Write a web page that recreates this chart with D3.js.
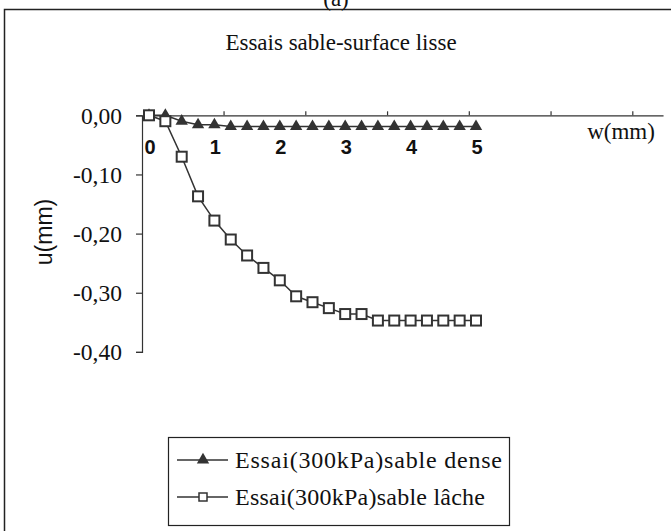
<!DOCTYPE html>
<html>
<head>
<meta charset="utf-8">
<script src="https://cdn.jsdelivr.net/npm/d3@7"></script>
<style>
  html, body { margin: 0; padding: 0; background: #fff; }
  svg { display: block; }
</style>
</head>
<body>
<svg id="chart" width="671" height="531"></svg>
<script>
// Displacement w (mm) at each reading
const wValues = [0, 0.25, 0.5, 0.75, 1, 1.25, 1.5, 1.75, 2, 2.25, 2.5,
                 2.75, 3, 3.25, 3.5, 3.75, 4, 4.25, 4.5, 4.75, 5];
// u (mm) for dense sand
const denseU = [0, 0, -0.01, -0.016, -0.016, -0.019, -0.019, -0.019, -0.019, -0.019, -0.019,
                -0.019, -0.019, -0.019, -0.019, -0.019, -0.019, -0.019, -0.019, -0.019, -0.019];
// u (mm) for loose sand
const looseU = [0, -0.01, -0.07, -0.137, -0.178, -0.21, -0.237, -0.258, -0.279, -0.306, -0.316,
                -0.326, -0.336, -0.336, -0.347, -0.347, -0.347, -0.347, -0.347, -0.347, -0.347];

const yTickValues = [0, -0.1, -0.2, -0.3, -0.4];
const yTickLabels = ["0,00", "-0,10", "-0,20", "-0,30", "-0,40"];
const xLabelValues = [0, 1, 2, 3, 4, 5];
const xAxisTicks = [1.14, 2.39, 3.64, 4.89, 6.14, 7.39];
const xAxisExtent = [-0.107, 7.86];

const seriesNames = ["Essai(300kPa)sable dense", "Essai(300kPa)sable lâche"];
const chartTitle = "Essais sable-surface lisse";

const ink = "#333";
const serif = "'Liberation Serif', 'Times New Roman', serif";
const sans = "'Liberation Sans', Arial, sans-serif";
const svg = d3.select("#chart");

const x = d3.scaleLinear().domain([0, 5]).range([149, 476]);
const y = d3.scaleLinear().domain([-0.4, 0]).range([351.9, 115.3]);

// outer frame (left and top edges)
svg.append("path")
  .attr("d", "M4.5,531 V9.5 H671")
  .attr("fill", "none").attr("stroke", "#222").attr("stroke-width", 1.5);

// panel letter, partly hidden above the frame
svg.append("text")
  .attr("x", 336).attr("y", 6)
  .attr("text-anchor", "middle")
  .attr("font-family", serif)
  .attr("font-size", 23).attr("fill", "#111")
  .text("(a)");

svg.append("text")
  .attr("x", 341).attr("y", 50)
  .attr("text-anchor", "middle")
  .attr("font-family", serif)
  .attr("font-size", 23).attr("fill", "#111")
  .text(chartTitle);

// y axis
const yAxis = d3.axisLeft(y).tickValues(yTickValues).tickSize(6).tickPadding(14)
  .tickFormat((d, i) => yTickLabels[i]);
const gy = svg.append("g").attr("transform", `translate(${x(xAxisExtent[0])},0)`).call(yAxis);
gy.select(".domain").attr("stroke", ink).attr("stroke-width", 1.2);
gy.selectAll(".tick line").attr("stroke", ink).attr("stroke-width", 1.2);
gy.selectAll(".tick text")
  .attr("font-family", serif)
  .attr("font-size", 23.5).attr("fill", "#111").attr("dy", "0.33em");

// x axis along u = 0
const xAxisScale = d3.scaleLinear().domain(xAxisExtent).range([x(xAxisExtent[0]), x(xAxisExtent[1])]);
const xAxis = d3.axisTop(xAxisScale).tickValues(xAxisTicks).tickSizeInner(4).tickSizeOuter(0).tickFormat("");
const gx = svg.append("g").attr("transform", `translate(0,${y(0)})`).call(xAxis);
gx.select(".domain").attr("stroke", ink).attr("stroke-width", 1.2);
gx.selectAll(".tick line").attr("stroke", ink).attr("stroke-width", 1.2);

// bold w labels under the axis
svg.append("g").selectAll("text").data(xLabelValues).join("text")
  .attr("x", d => x(d) + 1).attr("y", 154)
  .attr("text-anchor", "middle")
  .attr("font-family", sans)
  .attr("font-weight", "bold").attr("font-size", 20).attr("fill", "#111")
  .text(d => d);

svg.append("text")
  .attr("x", 621).attr("y", 139)
  .attr("text-anchor", "middle")
  .attr("font-family", serif)
  .attr("font-size", 23).attr("fill", "#111")
  .text("w(mm)");

svg.append("text")
  .attr("transform", "translate(52,232) rotate(-90)")
  .attr("text-anchor", "middle")
  .attr("font-family", sans)
  .attr("font-size", 23).attr("fill", "#111")
  .text("u(mm)");

const line = d3.line().x(d => x(d[0])).y(d => y(d[1]));
const triangle = d3.symbol().type(d3.symbolTriangle).size(66);

// dense sand series
const denseData = wValues.map((w, i) => [w, denseU[i]]);
svg.append("path").datum(denseData)
  .attr("d", line).attr("fill", "none").attr("stroke", ink).attr("stroke-width", 1.5);
svg.append("g").selectAll("path").data(denseData).join("path")
  .attr("transform", d => `translate(${x(d[0])},${y(d[1])})`)
  .attr("d", triangle).attr("fill", ink);

// loose sand series
const looseData = wValues.map((w, i) => [w, looseU[i]]);
svg.append("path").datum(looseData)
  .attr("d", line).attr("fill", "none").attr("stroke", ink).attr("stroke-width", 1.5);
svg.append("g").selectAll("rect").data(looseData).join("rect")
  .attr("x", d => x(d[0]) - 5).attr("y", d => y(d[1]) - 5)
  .attr("width", 10).attr("height", 10)
  .attr("fill", "#fff").attr("stroke", ink).attr("stroke-width", 2);

// legend
const legend = svg.append("g");
legend.append("rect")
  .attr("x", 168.5).attr("y", 437.5).attr("width", 341).attr("height", 88)
  .attr("fill", "#fff").attr("stroke", "#222").attr("stroke-width", 1.2);
const rowsY = [460, 497];
seriesNames.forEach((name, i) => {
  const yy = rowsY[i];
  legend.append("line").attr("x1", 177).attr("x2", 228).attr("y1", yy).attr("y2", yy)
    .attr("stroke", ink).attr("stroke-width", 1.5);
  if (i === 0) {
    legend.append("path").attr("transform", `translate(203,${yy})`)
      .attr("d", triangle).attr("fill", ink);
  } else {
    legend.append("rect").attr("x", 199).attr("y", yy - 4).attr("width", 8).attr("height", 8)
      .attr("fill", "#fff").attr("stroke", ink).attr("stroke-width", 1.5);
  }
  legend.append("text")
    .attr("x", 235).attr("y", yy + 8)
    .attr("font-family", serif)
    .attr("font-size", 24).attr("fill", "#111")
    .attr("textLength", i === 0 ? 267 : 250).attr("lengthAdjust", "spacing")
    .text(name);
});
</script>
</body>
</html>
